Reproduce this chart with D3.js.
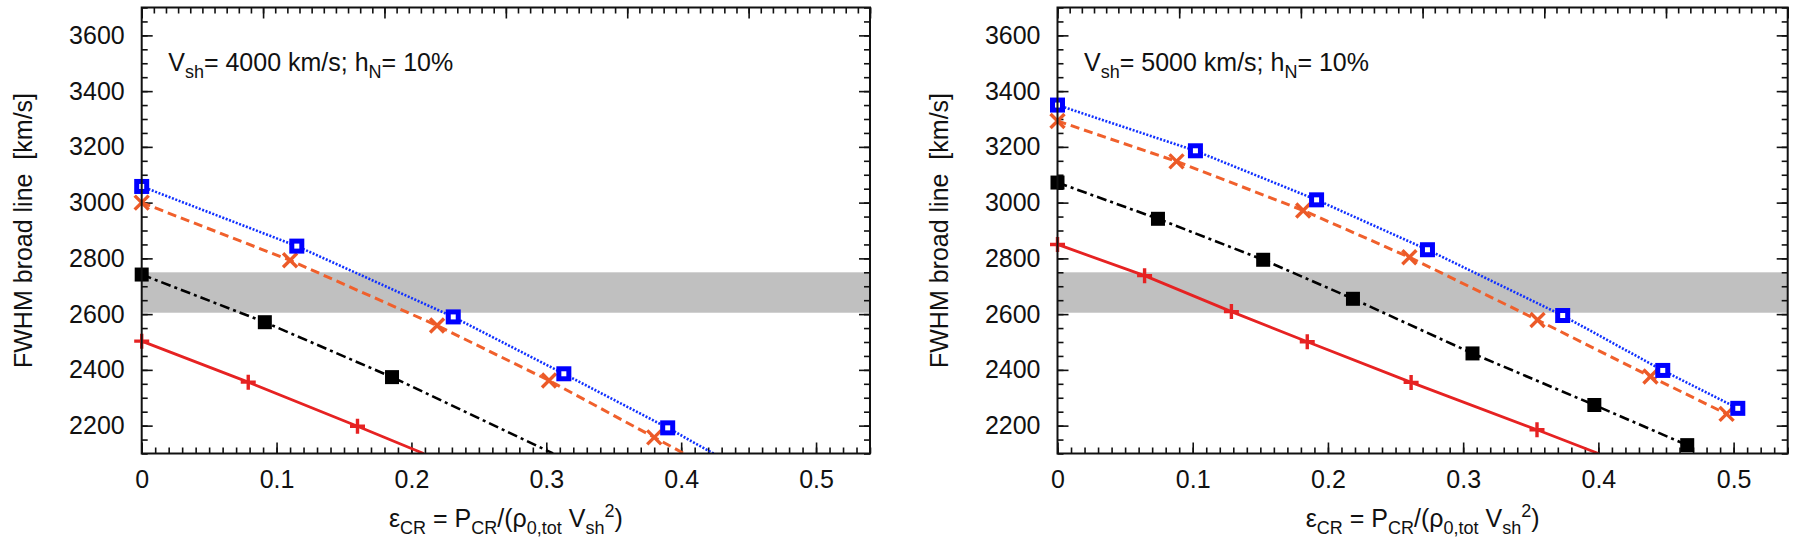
<!DOCTYPE html>
<html>
<head>
<meta charset="utf-8">
<script src="https://cdn.jsdelivr.net/npm/d3@7"></script>
<style>
  html, body { margin: 0; padding: 0; background: #fff; }
  svg { display: block; }
  text { font-family: "Liberation Sans", Arial, Helvetica, sans-serif; fill: #111; }
</style>
</head>
<body>
<svg id="chart" width="1800" height="543"></svg>
<script>
// ---------------- DATA ----------------
const xDomain = [0, 0.54];
const yDomain = [2100, 3700];
const xTickValues = [0, 0.1, 0.2, 0.3, 0.4, 0.5];
const xTickLabels = ["0", "0.1", "0.2", "0.3", "0.4", "0.5"];
const yTickValues = [2200, 2400, 2600, 2800, 3000, 3200, 3400, 3600];
const yTickLabels = ["2200", "2400", "2600", "2800", "3000", "3200", "3400", "3600"];
const bandRange = [2605, 2750];
const panelTitles = ["4000", "5000"];

// Left panel (Vsh = 4000 km/s)
const left_blue_x   = [0, 0.115, 0.231, 0.313, 0.390, 0.424];
const left_blue_y   = [3058, 2844, 2590, 2386, 2192, 2100];
const left_orange_x = [0, 0.110, 0.219, 0.302, 0.380, 0.402];
const left_orange_y = [3000, 2793, 2559, 2362, 2158, 2100];
const left_black_x  = [0, 0.0913, 0.1856, 0.305];
const left_black_y  = [2742, 2571, 2374, 2100];
const left_red_x    = [0, 0.079, 0.160, 0.209];
const left_red_y    = [2503, 2356, 2198, 2100];

// Right panel (Vsh = 5000 km/s)
const right_blue_x   = [0, 0.102, 0.1916, 0.2736, 0.3736, 0.4476, 0.5031];
const right_blue_y   = [3350, 3186, 3010, 2831, 2595, 2398, 2262];
const right_orange_x = [0, 0.088, 0.1817, 0.2602, 0.355, 0.4385, 0.4948];
const right_orange_y = [3293, 3148, 2972, 2804, 2579, 2376, 2242];
const right_black_x  = [0, 0.0743, 0.1521, 0.2185, 0.3069, 0.397, 0.4657];
const right_black_y  = [3072, 2942, 2795, 2655, 2459, 2274, 2130];
const right_red_x    = [0, 0.0644, 0.1286, 0.1847, 0.2615, 0.3546, 0.400];
const right_red_y    = [2850, 2738, 2609, 2501, 2355, 2185, 2100];

// ---------------- STYLES ----------------
const styles = {
  blue:   { color: "#1030ff", marker: "#0000ff", dash: "2,1.6", width: 2.6, shape: "opensquare" },
  orange: { color: "#f0602c", marker: "#ec5a28", dash: "9,5", width: 3, shape: "cross" },
  black:  { color: "#000000", marker: "#000000", dash: "10,4,3,4", width: 2.6, shape: "filledsquare" },
  red:    { color: "#e62222", marker: "#e62222", dash: null, width: 2.8, shape: "plus" }
};

const panels = [
  { x0: 141.7, x1: 870, title: panelTitles[0], series: [
      ["red", left_red_x, left_red_y], ["black", left_black_x, left_black_y],
      ["orange", left_orange_x, left_orange_y], ["blue", left_blue_x, left_blue_y] ] },
  { x0: 1057.5, x1: 1787.7, title: panelTitles[1], series: [
      ["red", right_red_x, right_red_y], ["black", right_black_x, right_black_y],
      ["orange", right_orange_x, right_orange_y], ["blue", right_blue_x, right_blue_y] ] }
];
const yTop = 7.5, yBot = 453.5;

const svg = d3.select("#chart");

panels.forEach((p, pi) => {
  const W = p.x1 - p.x0, H = yBot - yTop;
  const g = svg.append("g").attr("transform", `translate(${p.x0},${yTop})`);
  const x = d3.scaleLinear().domain(xDomain).range([0, W]);
  const x2 = d3.scaleLinear().domain([0, 0.6]).range([0, W]);
  const y = d3.scaleLinear().domain(yDomain).range([H, 0]);

  const clipId = "clip" + pi;
  g.append("clipPath").attr("id", clipId).append("rect")
    .attr("x", 0).attr("y", 0).attr("width", W).attr("height", H);

  // grey band
  g.append("rect").attr("x", 0).attr("width", W)
    .attr("y", y(bandRange[1])).attr("height", y(bandRange[0]) - y(bandRange[1]))
    .attr("fill", "#c0c0c0");

  const minorX = d3.range(0, 55).map(i => i / 100).filter(v => v <= xDomain[1] + 1e-9);
  const minorX2 = d3.range(0, 61).map(i => i / 100);
  const minorY = d3.range(2100, 3701, 50);
  const majorX2 = [0, 0.1, 0.2, 0.3, 0.4, 0.5, 0.6];

  function styleAxis(sel) {
    sel.select(".domain").remove();
    sel.selectAll(".tick line").attr("stroke", "#111").attr("stroke-width", 1.6);
  }
  // bottom
  g.append("g").attr("transform", `translate(0,${H})`)
    .call(d3.axisBottom(x).tickValues(minorX).tickSize(-6).tickFormat("")).call(styleAxis);
  g.append("g").attr("transform", `translate(0,${H})`)
    .call(d3.axisBottom(x).tickValues(xTickValues).tickSize(-11).tickPadding(17)
      .tickFormat((d, i) => xTickLabels[i]))
    .call(styleAxis)
    .selectAll("text").attr("font-size", 25).attr("fill", "#111")
    .attr("font-family", '"Liberation Sans", Arial, sans-serif');
  // top (secondary scale)
  g.append("g").call(d3.axisTop(x2).tickValues(minorX2).tickSize(-6).tickFormat("")).call(styleAxis);
  g.append("g").call(d3.axisTop(x2).tickValues(majorX2).tickSize(-11).tickFormat("")).call(styleAxis);
  // left
  g.append("g").call(d3.axisLeft(y).tickValues(minorY).tickSize(-6).tickFormat("")).call(styleAxis);
  g.append("g")
    .call(d3.axisLeft(y).tickValues(yTickValues).tickSize(-11).tickPadding(17)
      .tickFormat((d, i) => yTickLabels[i]))
    .call(styleAxis)
    .selectAll("text").attr("font-size", 25).attr("fill", "#111")
    .attr("font-family", '"Liberation Sans", Arial, sans-serif');
  // right
  g.append("g").attr("transform", `translate(${W},0)`)
    .call(d3.axisRight(y).tickValues(minorY).tickSize(-6).tickFormat("")).call(styleAxis);
  g.append("g").attr("transform", `translate(${W},0)`)
    .call(d3.axisRight(y).tickValues(yTickValues).tickSize(-11).tickFormat("")).call(styleAxis);

  // series
  const lineGen = d3.line().x(d => x(d[0])).y(d => y(d[1]));
  const plotG = g.append("g").attr("clip-path", `url(#${clipId})`);
  p.series.forEach(([key, xs, ys]) => {
    const st = styles[key];
    const pts = xs.map((v, i) => [v, ys[i]]);
    plotG.append("path").datum(pts).attr("d", lineGen)
      .attr("fill", "none").attr("stroke", st.color).attr("stroke-width", st.width)
      .attr("stroke-dasharray", st.dash).attr("stroke-linejoin", "round");
    const mpts = pts.filter(d => d[1] > yDomain[0]);
    const mg = g.append("g");
    mpts.forEach(d => {
      const cx = x(d[0]), cy = y(d[1]);
      if (st.shape === "opensquare") {
        mg.append("rect").attr("x", cx - 5).attr("y", cy - 5).attr("width", 10).attr("height", 10)
          .attr("fill", "#fff").attr("stroke", st.marker).attr("stroke-width", 5);
      } else if (st.shape === "filledsquare") {
        mg.append("rect").attr("x", cx - 7).attr("y", cy - 7).attr("width", 14).attr("height", 14)
          .attr("fill", st.marker);
      } else if (st.shape === "cross") {
        const s = 7;
        mg.append("path").attr("d", `M${cx - s},${cy - s}L${cx + s},${cy + s}M${cx - s},${cy + s}L${cx + s},${cy - s}`)
          .attr("stroke", st.marker).attr("stroke-width", 3.4).attr("fill", "none");
      } else if (st.shape === "plus") {
        const s = 7.5;
        mg.append("path").attr("d", `M${cx - s},${cy}L${cx + s},${cy}M${cx},${cy - s}L${cx},${cy + s}`)
          .attr("stroke", st.marker).attr("stroke-width", 3.4).attr("fill", "none");
      }
    });
  });

  // frame
  g.append("rect").attr("x", 0).attr("y", 0).attr("width", W).attr("height", H)
    .attr("fill", "none").attr("stroke", "#111").attr("stroke-width", 2);

  // annotation
  const ann = g.append("text").attr("x", 26.5).attr("y", 71 - yTop).attr("font-size", 25);
  ann.append("tspan").text("V");
  ann.append("tspan").attr("font-size", 18).attr("dy", 7).text("sh");
  ann.append("tspan").attr("dy", -7).text(`= ${p.title} km/s; h`);
  ann.append("tspan").attr("font-size", 18).attr("dy", 7).text("N");
  ann.append("tspan").attr("dy", -7).text("= 10%");

  // y axis label
  g.append("text").attr("transform", `translate(${-118},${H / 2}) rotate(-90)`)
    .attr("text-anchor", "middle").attr("dy", "0.35em").attr("font-size", 25)
    .style("white-space", "pre")
    .text("FWHM broad line\u00a0\u00a0[km/s]");

  // x axis label
  const xl = g.append("text").attr("x", W / 2).attr("y", 527 - yTop)
    .attr("text-anchor", "middle").attr("font-size", 25);
  xl.append("tspan").text("ε");
  xl.append("tspan").attr("font-size", 18).attr("dy", 7).text("CR");
  xl.append("tspan").attr("dy", -7).text(" = P");
  xl.append("tspan").attr("font-size", 18).attr("dy", 7).text("CR");
  xl.append("tspan").attr("dy", -7).text("/(ρ");
  xl.append("tspan").attr("font-size", 18).attr("dy", 7).text("0,tot");
  xl.append("tspan").attr("dy", -7).text(" V");
  xl.append("tspan").attr("font-size", 18).attr("dy", 7).text("sh");
  xl.append("tspan").attr("font-size", 18).attr("dy", -17).text("2");
  xl.append("tspan").attr("dy", 10).text(")");
});
</script>
</body>
</html>
